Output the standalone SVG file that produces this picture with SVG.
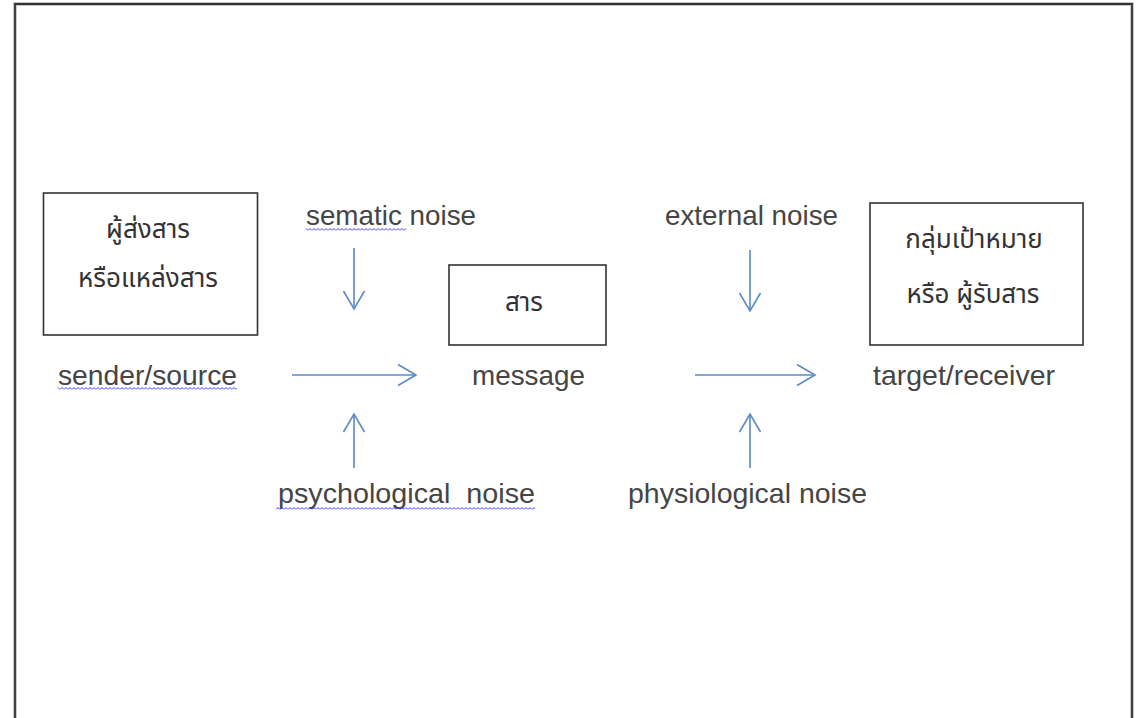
<svg xmlns="http://www.w3.org/2000/svg" width="1144" height="718" viewBox="0 0 1144 718">
<defs>
<style>
.lat{font-family:"Liberation Sans",Arial,sans-serif;font-size:28.5px;fill:#454545;}
.th{font-family:"Noto Sans Thai","Loma","Tahoma","Noto Sans","DejaVu Sans",sans-serif;font-size:26px;fill:#333;text-anchor:middle;}
.box{fill:#fff;stroke:#333;stroke-width:1.6;}
.conn{stroke:#5b8ac6;stroke-width:1.6;fill:none;}
.sq{fill:url(#wave);}
</style>
<pattern id="wave" patternUnits="userSpaceOnUse" x="0" y="0" width="4" height="3">
<path d="M0,2.5 L2,0.5 L4,2.5" fill="none" stroke="#3a3aff" stroke-width="1"/>
</pattern>
<marker id="ah" markerUnits="userSpaceOnUse" viewBox="-20 -12 22 24" refX="0" refY="0" markerWidth="22" markerHeight="24" orient="auto" overflow="visible">
<path d="M-18,-10.5 L0,0 L-18,10.5" fill="none" stroke="#5b8ac6" stroke-width="1.6"/>
</marker>
</defs>
<rect width="1144" height="718" fill="#fff"/>
<path d="M15,720 L15,4 L1132,4 L1132,720" fill="none" stroke="#c8c8c8" stroke-width="4"/>
<path d="M15,720 L15,4 L1132,4 L1132,720" fill="none" stroke="#333" stroke-width="1.8"/>

<g id="sender">
<rect class="box" x="43.5" y="193" width="214" height="142"/>
<text class="th" x="148" y="238">ผู้ส่งสาร</text>
<text class="th" x="148" y="287">หรือแหล่งสาร</text>
<text class="lat" x="58" y="385" textLength="179" lengthAdjust="spacingAndGlyphs">sender/source</text>
</g>
<g id="message">
<rect class="box" x="449" y="265" width="157" height="80"/>
<text class="th" x="524" y="311">สาร</text>
<text class="lat" x="472" y="385" textLength="113" lengthAdjust="spacingAndGlyphs">message</text>
</g>
<g id="receiver">
<rect class="box" x="870" y="203" width="213" height="142"/>
<text class="th" x="974" y="248">กลุ่มเป้าหมาย</text>
<text class="th" x="973" y="303">หรือ ผู้รับสาร</text>
<text class="lat" x="873" y="385" textLength="182" lengthAdjust="spacingAndGlyphs">target/receiver</text>
</g>
<g id="semantic-noise">
<text class="lat" x="306" y="225" textLength="170" lengthAdjust="spacingAndGlyphs">sematic noise</text>
</g>
<g id="external-noise">
<text class="lat" x="665" y="225" textLength="173" lengthAdjust="spacingAndGlyphs">external noise</text>
</g>
<g id="psychological-noise">
<text class="lat" x="278" y="503" textLength="257" lengthAdjust="spacingAndGlyphs" xml:space="preserve">psychological  noise</text>
</g>
<g id="physiological-noise">
<text class="lat" x="628" y="503" textLength="239" lengthAdjust="spacingAndGlyphs">physiological noise</text>
</g>

<g id="spellcheck">
<rect class="sq" x="58" y="387" width="179" height="3"/>
<rect class="sq" x="306" y="228" width="100" height="3"/>
<rect class="sq" x="276" y="507" width="259" height="3"/>
</g>

<g id="connectors">
<line class="conn" x1="292" y1="375" x2="416" y2="375" marker-end="url(#ah)"/>
<line class="conn" x1="695" y1="375" x2="815" y2="375" marker-end="url(#ah)"/>
<line class="conn" x1="354" y1="248" x2="354" y2="309" marker-end="url(#ah)"/>
<line class="conn" x1="750" y1="250" x2="750" y2="311" marker-end="url(#ah)"/>
<line class="conn" x1="354" y1="468" x2="354" y2="414" marker-end="url(#ah)"/>
<line class="conn" x1="750" y1="468" x2="750" y2="414" marker-end="url(#ah)"/>
</g>
</svg>
